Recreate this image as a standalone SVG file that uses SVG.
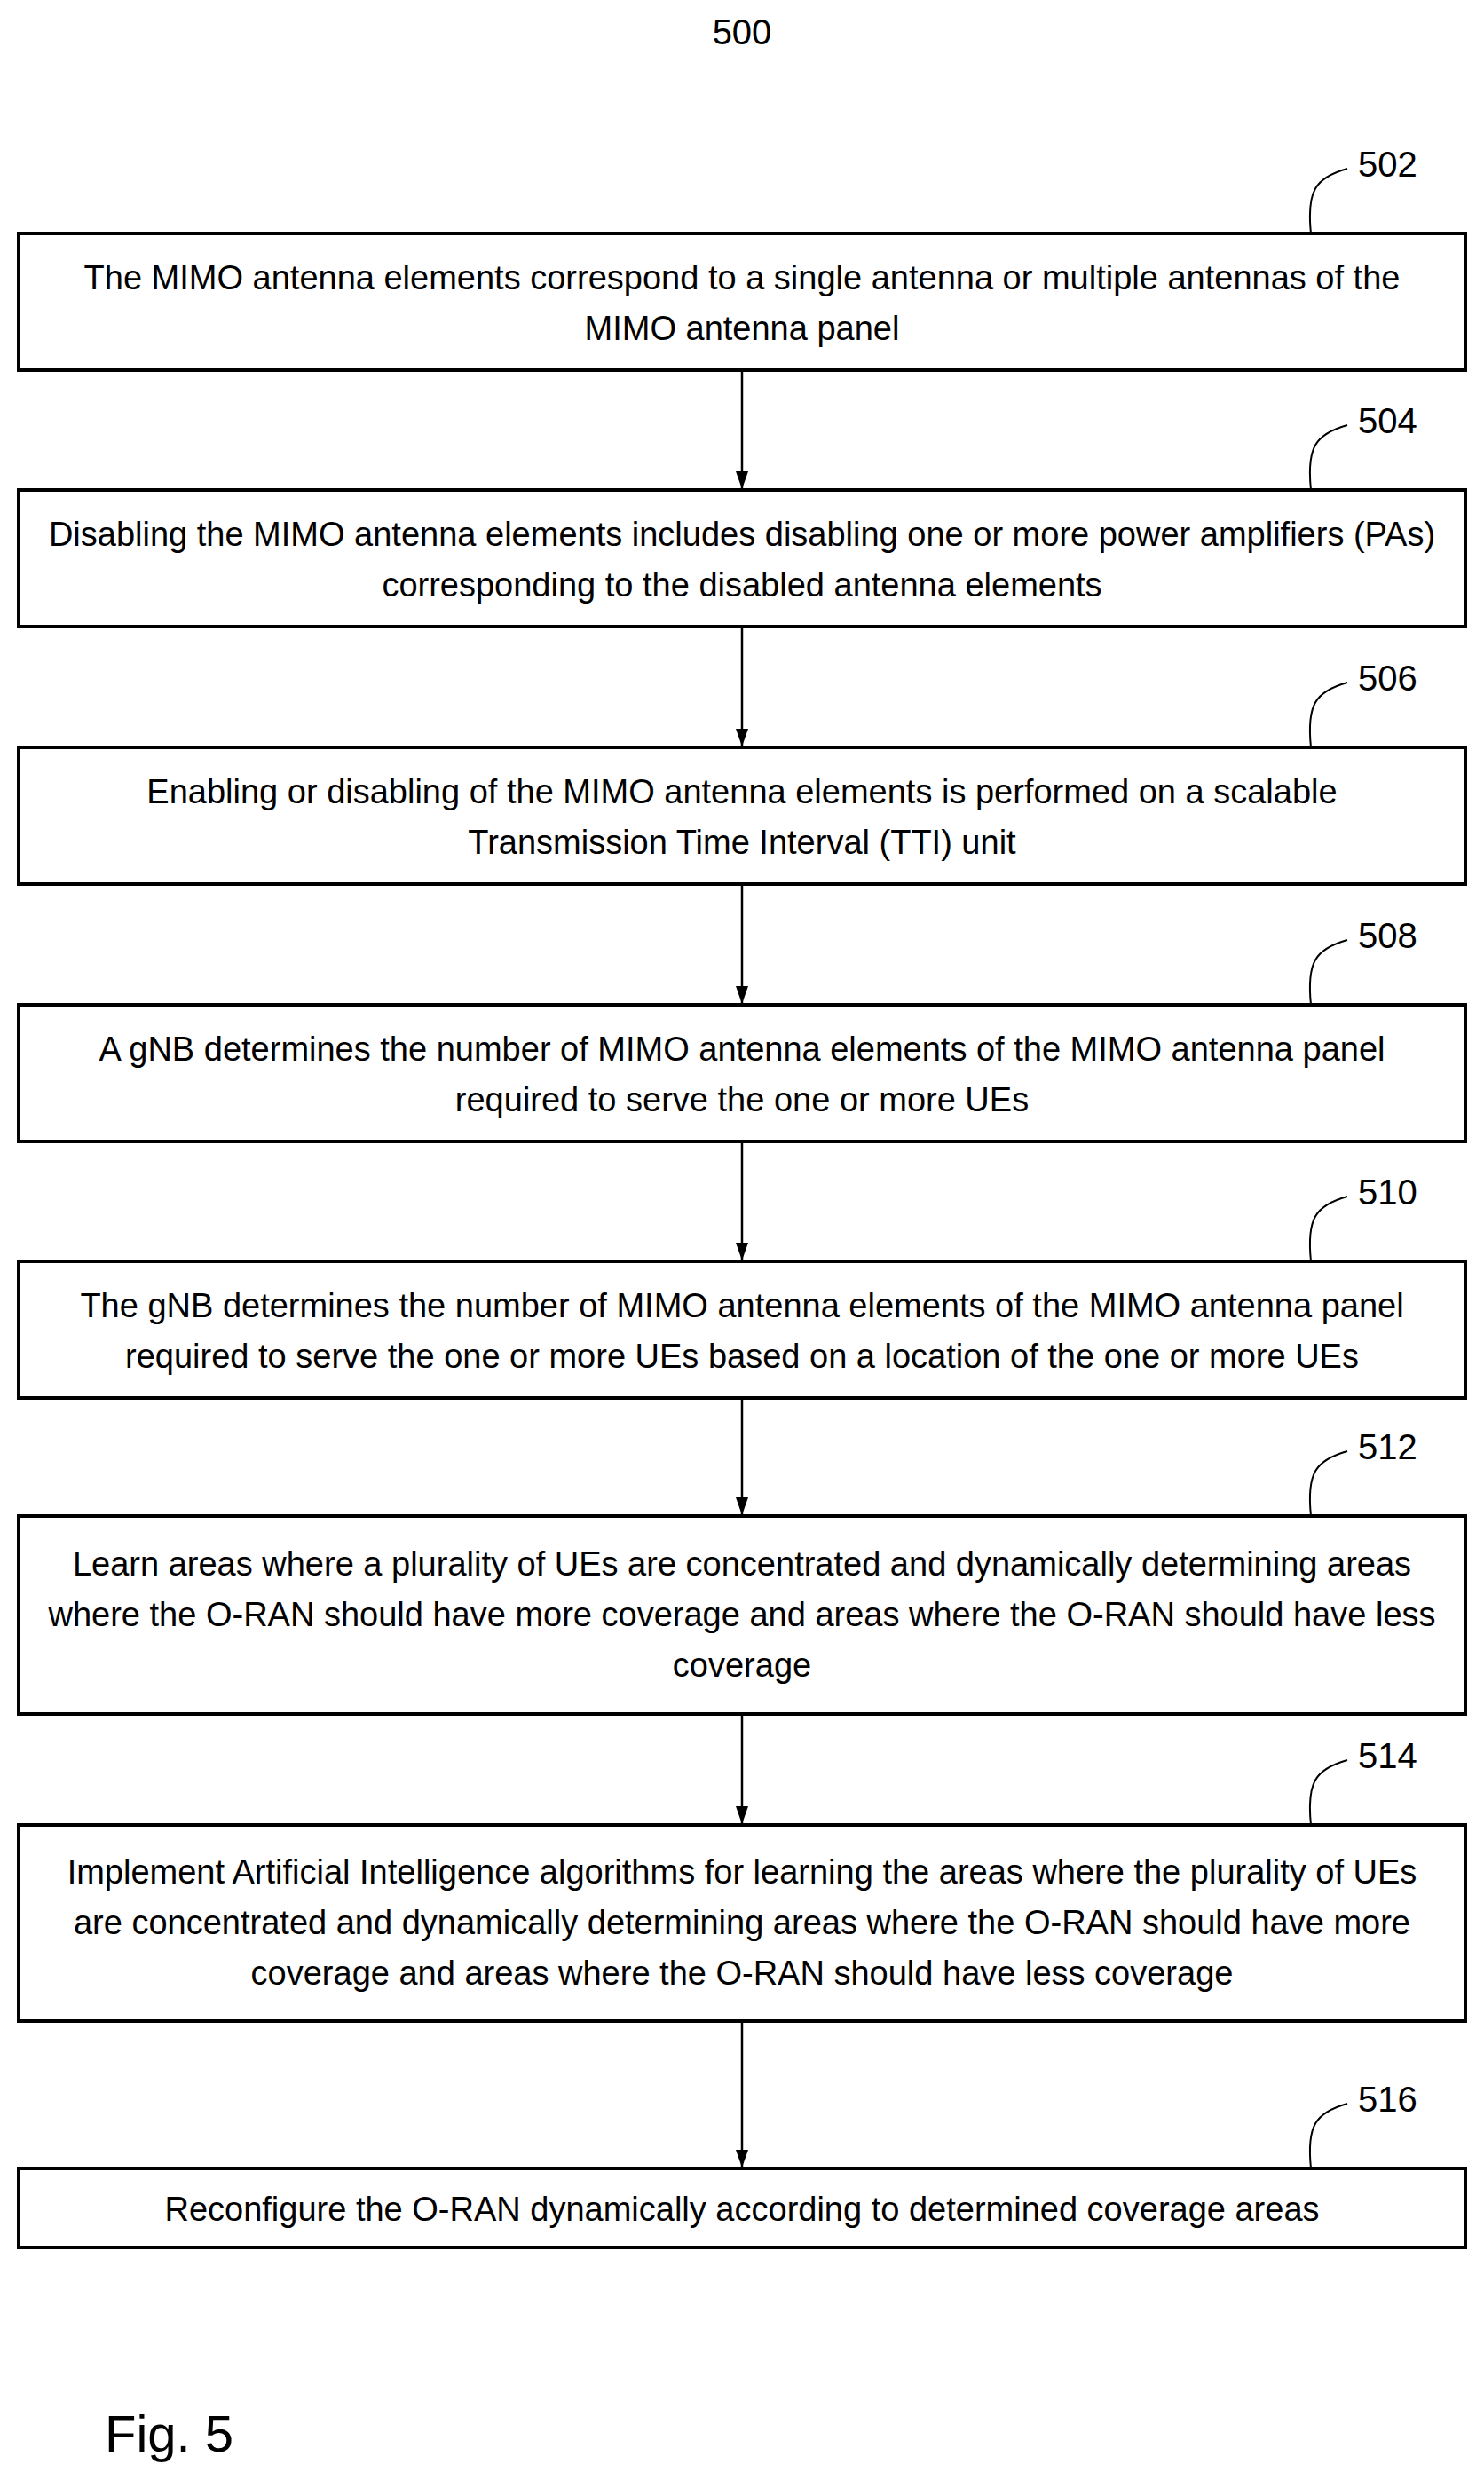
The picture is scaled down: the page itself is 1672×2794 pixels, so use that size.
<svg xmlns="http://www.w3.org/2000/svg" width="1672" height="2794" viewBox="0 0 1672 2794">
<style>
rect.b{fill:#fff;stroke:#000;stroke-width:4}
text{font-family:"Liberation Sans",Arial,sans-serif;fill:#000}
.t{font-size:38px;text-anchor:middle}
.n{font-size:40px}
.c{fill:none;stroke:#000;stroke-width:2}
.a{stroke:#000;stroke-width:2.5;marker-end:url(#ah)}
</style>
<defs><marker id="ah" markerWidth="20" markerHeight="14" refX="20" refY="7" markerUnits="userSpaceOnUse" orient="auto"><path d="M0,0 L20,7 L0,14 Z"/></marker></defs>
<rect width="1672" height="2794" fill="#fff"/>
<text x="836" y="50" class="n" text-anchor="middle">500</text>
<g id="connectors">
<line class="a" x1="836" y1="417" x2="836" y2="551"/>
<line class="a" x1="836" y1="706" x2="836" y2="841"/>
<line class="a" x1="836" y1="996" x2="836" y2="1131"/>
<line class="a" x1="836" y1="1286" x2="836" y2="1420"/>
<line class="a" x1="836" y1="1575" x2="836" y2="1707"/>
<line class="a" x1="836" y1="1931" x2="836" y2="2055"/>
<line class="a" x1="836" y1="2277" x2="836" y2="2442"/>
</g>
<g id="n502"><rect class="b" x="21" y="263" width="1630" height="154"/>
<text class="t" x="836" y="326">The MIMO antenna elements correspond to a single antenna or multiple antennas of the</text>
<text class="t" x="836" y="383">MIMO antenna panel</text>
<path class="c" d="M1477,263 C1472,215 1482,200 1518,190"/><text class="n" x="1530" y="199">502</text></g>
<g id="n504"><rect class="b" x="21" y="552" width="1630" height="154"/>
<text class="t" x="836" y="615">Disabling the MIMO antenna elements includes disabling one or more power amplifiers (PAs)</text>
<text class="t" x="836" y="672">corresponding to the disabled antenna elements</text>
<path class="c" d="M1477,552 C1472,504 1482,489 1518,479"/><text class="n" x="1530" y="488">504</text></g>
<g id="n506"><rect class="b" x="21" y="842" width="1630" height="154"/>
<text class="t" x="836" y="905">Enabling or disabling of the MIMO antenna elements is performed on a scalable</text>
<text class="t" x="836" y="962">Transmission Time Interval (TTI) unit</text>
<path class="c" d="M1477,842 C1472,794 1482,779 1518,769"/><text class="n" x="1530" y="778">506</text></g>
<g id="n508"><rect class="b" x="21" y="1132" width="1630" height="154"/>
<text class="t" x="836" y="1195">A gNB determines the number of MIMO antenna elements of the MIMO antenna panel</text>
<text class="t" x="836" y="1252">required to serve the one or more UEs</text>
<path class="c" d="M1477,1132 C1472,1084 1482,1069 1518,1059"/><text class="n" x="1530" y="1068">508</text></g>
<g id="n510"><rect class="b" x="21" y="1421" width="1630" height="154"/>
<text class="t" x="836" y="1484">The gNB determines the number of MIMO antenna elements of the MIMO antenna panel</text>
<text class="t" x="836" y="1541">required to serve the one or more UEs based on a location of the one or more UEs</text>
<path class="c" d="M1477,1421 C1472,1373 1482,1358 1518,1348"/><text class="n" x="1530" y="1357">510</text></g>
<g id="n512"><rect class="b" x="21" y="1708" width="1630" height="223"/>
<text class="t" x="836" y="1775">Learn areas where a plurality of UEs are concentrated and dynamically determining areas</text>
<text class="t" x="836" y="1832">where the O-RAN should have more coverage and areas where the O-RAN should have less</text>
<text class="t" x="836" y="1889">coverage</text>
<path class="c" d="M1477,1708 C1472,1660 1482,1645 1518,1635"/><text class="n" x="1530" y="1644">512</text></g>
<g id="n514"><rect class="b" x="21" y="2056" width="1630" height="221"/>
<text class="t" x="836" y="2122">Implement Artificial Intelligence algorithms for learning the areas where the plurality of UEs</text>
<text class="t" x="836" y="2179">are concentrated and dynamically determining areas where the O-RAN should have more</text>
<text class="t" x="836" y="2236">coverage and areas where the O-RAN should have less coverage</text>
<path class="c" d="M1477,2056 C1472,2008 1482,1993 1518,1983"/><text class="n" x="1530" y="1992">514</text></g>
<g id="n516"><rect class="b" x="21" y="2443" width="1630" height="89"/>
<text class="t" x="836" y="2502">Reconfigure the O-RAN dynamically according to determined coverage areas</text>
<path class="c" d="M1477,2443 C1472,2395 1482,2380 1518,2370"/><text class="n" x="1530" y="2379">516</text></g>
<text x="118" y="2762" style="font-size:58px">Fig. 5</text>
</svg>
